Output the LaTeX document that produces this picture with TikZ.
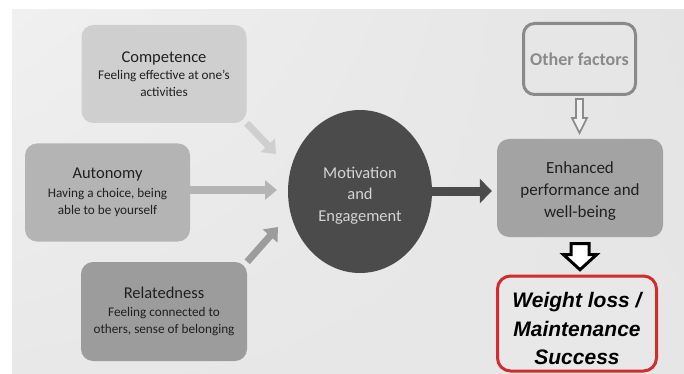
\documentclass[tikz,border=0pt]{standalone}
\usepackage{fontspec}
\setmainfont{Carlito}
\newfontfamily\arialf{Liberation Sans}
\usetikzlibrary{arrows.meta,shapes.geometric,shadings}
\pgfdeclarelayer{bg}
\pgfdeclarelayer{arr}
\pgfsetlayers{bg,arr,main}
\definecolor{cA}{HTML}{CFCFCF}
\definecolor{cB}{HTML}{B4B4B4}
\definecolor{cC}{HTML}{9C9C9C}
\definecolor{cM}{HTML}{4B4B4B}
\definecolor{cE}{HTML}{A3A3A3}
\definecolor{cO}{HTML}{8A8A8A}
\definecolor{cT}{HTML}{202020}
\definecolor{cR}{HTML}{D42B2B}
\definecolor{cMT}{HTML}{D4D4D4}
\definecolor{bgUL}{HTML}{F0F0F0}
\definecolor{bgUR}{HTML}{E4E4E4}
\definecolor{bgLL}{HTML}{E8E8E8}
\definecolor{bgLR}{HTML}{E6E6E6}
\definecolor{bgO}{HTML}{E6E6E6}
\definecolor{bgR}{HTML}{E8E8E8}
\definecolor{bgH}{HTML}{F0F0F0}
\newcommand{\ttlf}{\fontsize{16.5}{19}\selectfont}
\begin{document}
\begin{tikzpicture}[x=1pt,y=-1pt,
  box/.style={rounded corners=12pt, inner sep=0pt, align=center, text=cT,
    minimum width=165pt, minimum height=98pt, font=\fontsize{13.2}{17}\selectfont},
  flow/.style={line width=#1, -{Triangle[width=19pt,length=12pt]}},
  hollow/.style={line join=miter}]
\useasboundingbox (0,0) rectangle (684,374);
\begin{pgfonlayer}{bg}
\fill[white] (0,0) rectangle (684,374);
\shade[upper left=bgUL, upper right=bgUR, lower left=bgLL, lower right=bgLR]
  (12,10) rectangle (684,374);
\end{pgfonlayer}

\node[box, fill=cA] (comp) at (164,74)
  {{\ttlf Competence}\\[0pt]Feeling effective at one's\\activities};
\node[box, fill=cB] (auto) at (107.5,192.5)
  {{\ttlf Autonomy}\\[2pt]Having a choice, being\\able to be yourself};
\node[box, fill=cC, minimum width=166pt, minimum height=99pt] (rel) at (164,311.5)
  {{\ttlf Relatedness}\\[1pt]Feeling connected to\\others, sense of belonging};
\node[ellipse, fill=cM, minimum width=144pt, minimum height=163pt, inner sep=0pt,
  label={[align=center, text=cMT, font=\fontsize{16.5}{21.5}\selectfont, yshift=-4pt]center:Motivation\\and\\Engagement}]
  (mot) at (360,191.5) {};
\node[box, fill=cE, minimum width=166pt,
  label={[align=center, text=cT, font=\fontsize{17}{22}\selectfont, yshift=-3pt]center:Enhanced\\performance and\\well-being}]
  (enh) at (580,188) {};
\node[draw=cO, line width=3pt, rounded corners=11pt, fill=bgO,
  minimum width=112pt, minimum height=71pt, inner sep=0pt, text=cO,
  font=\bfseries\fontsize{18}{22}\selectfont] (oth) at (579.5,59) {Other factors};
\node[draw=cR, line width=3pt, rounded corners=13pt, fill=bgR,
  minimum width=159pt, minimum height=95pt, inner sep=0pt,
  label={[align=center, font=\arialf\bfseries\itshape\fontsize{21}{28.5}\selectfont, yshift=-5pt]center:Weight loss /\\Maintenance\\Success}]
  (res) at (577,323.5) {};

\coordinate (in1) at (276,154);
\coordinate (in2) at (277,190);
\coordinate (in3) at (278,227);
\coordinate (dk) at (0,191);
\begin{pgfonlayer}{arr}
\draw[flow=7pt, cA] (comp.south east) -- (in1);
\draw[flow=8pt, cB] (auto.east |- in2) -- (in2);
\draw[flow=7pt, cC] (rel.north east) -- (in3);
\draw[line width=9pt, cM, -{Triangle[width=24pt,length=12pt]}, shorten >=5pt]
  (mot.east |- dk) -- (enh.west |- dk);
\end{pgfonlayer}

% hollow arrow from Other factors
\draw[hollow, cO, line width=1.6pt, fill=bgH]
  (oth.south) ++(-3.5,3) -- ++(0,19) -- ++(-4,0) -- ++(7.5,15) -- ++(7.5,-15)
  -- ++(-4,0) -- ++(0,-19) -- cycle;
% black hollow arrow
\draw[hollow, black, line width=3pt, fill=white]
  (enh.south) ++(-9,6.5) -- ++(0,11) -- ++(-7.5,0) -- ++(16.5,15) -- ++(16.5,-15)
  -- ++(-7.5,0) -- ++(0,-11) -- cycle;
\end{tikzpicture}
\end{document}
